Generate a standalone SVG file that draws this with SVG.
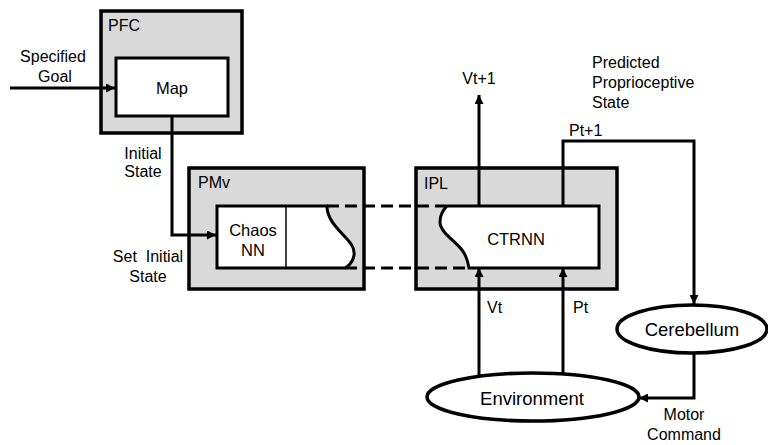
<svg xmlns="http://www.w3.org/2000/svg" width="768" height="445" viewBox="0 0 768 445">
<defs>
<marker id="ah" viewBox="0 0 10 10" refX="10" refY="5" markerWidth="3" markerHeight="3" orient="auto" markerUnits="strokeWidth">
<path d="M0,0 L10,5 L0,10 z" fill="#000"/>
</marker>
</defs>
<style>
text{font-family:"Liberation Sans",Arial,sans-serif;font-size:16px;fill:#000}
.m{text-anchor:middle}
.n{font-size:16.5px}
.big{font-size:18.5px}
.area{fill:#d9d9d9;stroke:#000;stroke-width:3.5}
.inner{fill:#fff;stroke:#000;stroke-width:3}
.c{fill:none;stroke:#000;stroke-width:3}
.d{fill:none;stroke:#000;stroke-width:3;stroke-dasharray:12 6}
.e{fill:#fff;stroke:#000;stroke-width:3.5}
</style>
<rect width="768" height="445" fill="#fff"/>

<g id="PFC">
<rect class="area" x="101" y="11" width="141" height="122"/>
<text x="108" y="31">PFC</text>
<g id="Map">
<rect class="inner" x="116" y="58" width="112" height="58"/>
<text class="m n" x="172" y="94">Map</text>
</g>
</g>

<g id="PMv">
<rect class="area" x="189" y="168" width="175" height="121"/>
<text x="198" y="188">PMv</text>
<g id="ChaosNN">
<path class="inner" d="M217,206 L327,206 C327,222 342,232 351,244 C358,254 352,264 345,268 L217,268 Z"/>
<line x1="286" y1="206" x2="286" y2="268" stroke="#000" stroke-width="1.5"/>
<text class="m n" x="253" y="236">Chaos</text>
<text class="m n" x="253" y="256">NN</text>
</g>
</g>

<g id="IPL">
<rect class="area" x="416" y="168" width="201" height="121"/>
<text x="424" y="189">IPL</text>
<g id="CTRNN">
<path class="inner" d="M447,206 L599,206 L599,268 L469,268 C468,262 466,255 462,250 C454,240 440,232 440,222 C440,214 444,209 447,206 Z"/>
<text class="m n" x="516" y="245">CTRNN</text>
</g>
</g>

<g id="Cerebellum">
<ellipse class="e" cx="692" cy="329" rx="75" ry="24"/>
<text class="m big" x="692" y="336">Cerebellum</text>
</g>

<g id="Environment">
<ellipse class="e" cx="533" cy="397" rx="106" ry="24"/>
<text class="m big" x="532" y="405">Environment</text>
</g>

<g id="connectors">
<line class="c" x1="10" y1="88" x2="115" y2="88" marker-end="url(#ah)"/>
<polyline class="c" points="172,116 172,235 216,235" marker-end="url(#ah)"/>
<line class="d" x1="327" y1="206" x2="446" y2="206"/>
<line class="d" x1="345" y1="268" x2="467" y2="268"/>
<line class="c" x1="479" y1="206" x2="479" y2="95" marker-end="url(#ah)"/>
<polyline class="c" points="563,206 563,141 694,141 694,304" marker-end="url(#ah)"/>
<line class="c" x1="479" y1="375" x2="479" y2="268" marker-end="url(#ah)"/>
<line class="c" x1="563" y1="374" x2="563" y2="268" marker-end="url(#ah)"/>
<polyline class="c" points="694,353 694,398 639,398" marker-end="url(#ah)"/>
</g>

<g id="labels">
<text class="m" x="53" y="62">Specified</text>
<text class="m" x="55" y="82">Goal</text>
<text class="m" x="143" y="159">Initial</text>
<text class="m" x="143" y="177">State</text>
<text class="m" x="148" y="262" xml:space="preserve">Set  Initial</text>
<text class="m" x="148" y="282">State</text>
<text class="m" x="479" y="84">Vt+1</text>
<text x="569" y="136">Pt+1</text>
<text x="592" y="68">Predicted</text>
<text x="592" y="88">Proprioceptive</text>
<text x="592" y="108">State</text>
<text x="487" y="313">Vt</text>
<text x="573" y="313">Pt</text>
<text class="m" x="684" y="420">Motor</text>
<text class="m" x="684" y="440">Command</text>
</g>
</svg>
